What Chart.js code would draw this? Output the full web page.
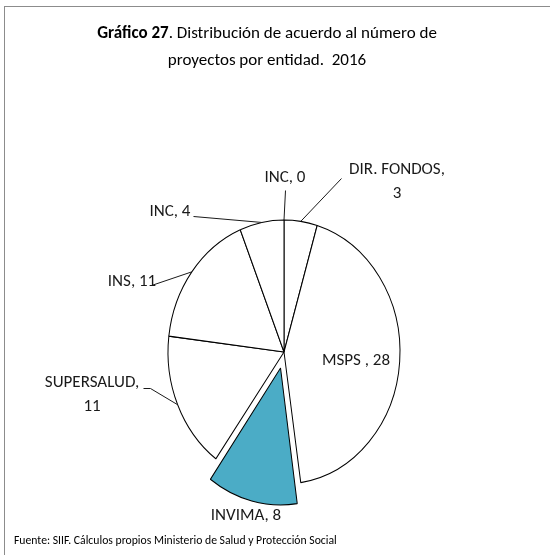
<!DOCTYPE html>
<html>
<head>
<meta charset="utf-8">
<script src="https://cdn.jsdelivr.net/npm/chart.js@4.4.0/dist/chart.umd.min.js"></script>
<style>
    html, body { margin: 0; padding: 0; background: #fff; overflow: hidden; }
    body { width: 550px; height: 555px; position: relative; font-family: Carlito, Calibri, Lato, sans-serif; }
    #frame { position: absolute; left: 4px; top: 6px; width: 600px; height: 600px; border: 1px solid #8c8c8c; }
    #chart { position: absolute; left: 0; top: 0; }
    .title { position: absolute; left: 0; width: 534px; text-align: center; font-size: 17px; line-height: 20px; color: #000; }
    #foot { position: absolute; left: 14px; top: 533px; font-size: 11.7px; line-height: 14px; color: #000; }
</style>
</head>
<body>
<div id="frame"></div>
<canvas id="chart" width="550" height="555"></canvas>
<div class="title" style="top:23px"><b>Gráfico 27</b>. Distribución de acuerdo al número de</div>
<div class="title" style="top:50px">proyectos por entidad.&nbsp; 2016</div>
<div id="foot">Fuente: SIIF. Cálculos propios Ministerio de Salud y Protección Social</div>

<script>
// Chart data
const categories = ['DIR. FONDOS', 'MSPS ', 'INVIMA', 'SUPERSALUD', 'INS', 'INC', 'INC'];
const proyectos = [3, 28, 8, 11, 11, 4, 0];
const sliceColors = ['#ffffff', '#ffffff', '#4bacc6', '#ffffff', '#ffffff', '#ffffff', '#ffffff'];
// Chart.js v4 pushes an arc out by offset / 4
const sliceOffsets = [0, 0, 58, 0, 0, 0, 0];

// Where each data label sits (hand placed, like the original), plus leader elbows
const labelSpots = [
    { x: 397, y: 170, wrap: true, lead: [[341, 178]] },
    { x: 356, y: 361 },
    { x: 246, y: 516 },
    { x: 92, y: 383, wrap: true, lead: [[143, 388], [150, 388]] },
    { x: 132, y: 282, lead: [[151, 285]] },
    { x: 170, y: 212, lead: [[193, 216]] },
    { x: 285, y: 178, lead: [[285, 190]] }
];

// Excel drew this pie slightly taller than wide
const SQUASH = 1.138;

const ovalPie = {
    id: 'ovalPie',
    beforeDatasetsDraw(chart) {
        const arc = chart.getDatasetMeta(0).data[0];
        const ctx = chart.ctx;
        ctx.save();
        ctx.translate(arc.x, arc.y);
        ctx.scale(1, SQUASH);
        ctx.translate(-arc.x, -arc.y);
    },
    afterDatasetsDraw(chart) {
        const ctx = chart.ctx;
        ctx.restore();

        const arcs = chart.getDatasetMeta(0).data;
        ctx.save();
        ctx.font = '17px Carlito, Calibri, Lato, sans-serif';
        ctx.fillStyle = '#1a1a1a';
        ctx.textAlign = 'center';
        ctx.textBaseline = 'middle';
        ctx.strokeStyle = '#1a1a1a';
        ctx.lineWidth = 1;

        arcs.forEach((arc, i) => {
            const spot = labelSpots[i];
            const p = arc.getProps(['x', 'y', 'startAngle', 'endAngle', 'outerRadius'], true);
            const mid = (p.startAngle + p.endAngle) / 2;
            const ex = p.x + Math.cos(mid) * p.outerRadius;
            const ey = p.y + Math.sin(mid) * p.outerRadius * SQUASH;

            if (spot.lead) {
                ctx.beginPath();
                ctx.moveTo(spot.lead[0][0] + 0.5, spot.lead[0][1] + 0.5);
                for (let k = 1; k < spot.lead.length; k++) {
                    ctx.lineTo(spot.lead[k][0] + 0.5, spot.lead[k][1] + 0.5);
                }
                ctx.lineTo(ex, ey);
                ctx.stroke();
            }

            if (spot.wrap) {
                ctx.fillText(categories[i] + ',', spot.x, spot.y);
                ctx.fillText(String(proyectos[i]), spot.x, spot.y + 24);
            } else {
                ctx.fillText(categories[i] + ', ' + proyectos[i], spot.x, spot.y);
            }
        });
        ctx.restore();
    }
};

document.addEventListener('DOMContentLoaded', function() {
    const ctx = document.getElementById('chart').getContext('2d');
    new Chart(ctx, {
        type: 'pie',
        data: {
            labels: categories,
            datasets: [{
                data: proyectos,
                backgroundColor: sliceColors,
                borderColor: '#000000',
                borderWidth: 1,
                offset: sliceOffsets
            }]
        },
        options: {
            responsive: false,
            animation: false,
            events: [],
            radius: 116,
            layout: { padding: { left: 118, right: 100, top: 200, bottom: 51 } },
            plugins: {
                legend: { display: false },
                title: { display: false },
                tooltip: { enabled: false }
            }
        },
        plugins: [ovalPie]
    });
});
</script>
</body>
</html>
